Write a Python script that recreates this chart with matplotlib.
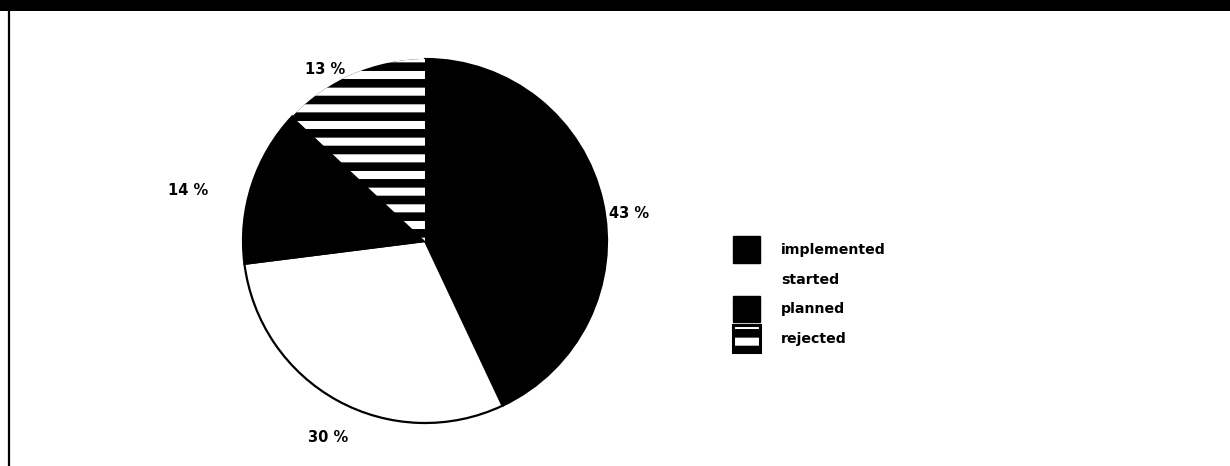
import matplotlib.pyplot as plt
from matplotlib.patches import Rectangle, Patch
from matplotlib.lines import Line2D
from matplotlib.legend_handler import HandlerTuple

# status shares of the measures
categories = ["implemented", "started", "planned", "rejected"]
shares = [43, 30, 14, 13]
pct_labels = ["43 %", "30 %", "14 %", "13 %"]
fills = ["black", "white", "black", "black"]
hatches = [None, None, None, "-"]

# where the percentage labels sit (pie units, radius 1)
label_xy = [(1.12, 0.15), (-0.53, -1.08), (-1.30, 0.28), (-0.55, 0.94)]

plt.rcParams["hatch.linewidth"] = 5.8

fig = plt.figure(figsize=(12.3, 4.66), dpi=100)

# black band at the top and the thin rule down the left side
fig.patches.append(Rectangle((0, 1 - 11 / 466), 1, 11 / 466, transform=fig.transFigure,
                             facecolor="black", edgecolor="none", zorder=0))
fig.lines.append(Line2D([8.5 / 1230, 8.5 / 1230], [0, 1], transform=fig.transFigure,
                        color="black", lw=1.6))

ax = fig.add_axes([243 / 1230, 43 / 466, 364 / 1230, 364 / 466])
wedges, _ = ax.pie(shares, startangle=90, counterclock=False, radius=1,
                   colors=fills, wedgeprops=dict(linewidth=1.6, edgecolor="black"))
for w, h in zip(wedges, hatches):
    if h:
        w.set_hatch(h)
        w.set_edgecolor("white")
        w.set_linewidth(0)

for (x, y), txt in zip(label_xy, pct_labels):
    ax.text(x, y, txt, ha="center", va="center", fontsize=10.5, fontweight="bold",
            family="DejaVu Sans")

ax.set_xlim(-1, 1)
ax.set_ylim(-1, 1)
ax.set_aspect("equal")
ax.axis("off")

# hatched key = striped box plus a black frame on top
striped = Patch(facecolor="black", edgecolor="white", hatch="-", linewidth=0)
frame = Patch(facecolor="none", edgecolor="black", linewidth=2.2)
handles = [
    Patch(facecolor="black", edgecolor="black"),
    Patch(facecolor="white", edgecolor="none"),
    Patch(facecolor="black", edgecolor="black"),
    (striped, frame),
]
fig.legend(handles, categories, loc="center left", bbox_to_anchor=(726 / 1230, 1 - 294 / 466),
           frameon=False, prop=dict(family="DejaVu Sans", weight="bold", size=10.2),
           handlelength=1.9, handleheight=2.5, labelspacing=0.22, handletextpad=1.5,
           borderpad=0, handler_map={tuple: HandlerTuple(ndivide=1, pad=0)})

fig.savefig("out.png", dpi=100, facecolor="white")
